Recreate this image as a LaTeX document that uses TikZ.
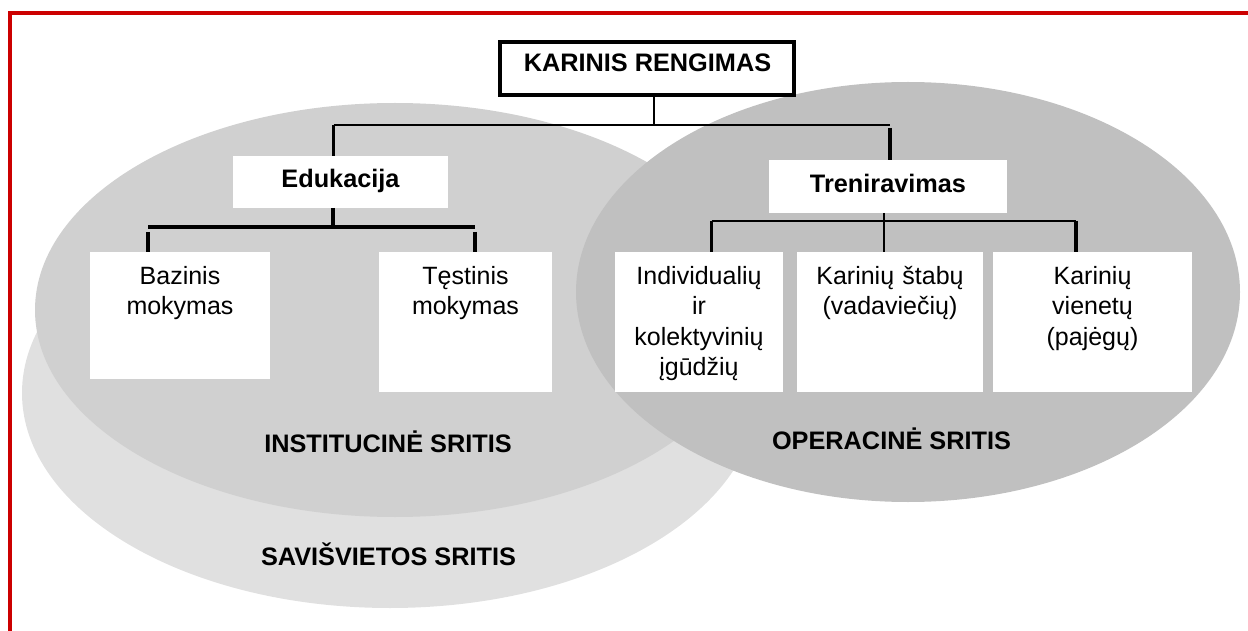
\documentclass[tikz,border=0pt]{standalone}
\usepackage{fontspec}
\setmainfont{Liberation Sans}
\definecolor{savis}{HTML}{E0E0E0}
\definecolor{instit}{HTML}{D0D0D0}
\definecolor{operac}{HTML}{C0C0C0}
\definecolor{frame}{HTML}{CC0000}
\begin{document}
\begin{tikzpicture}[x=1pt,y=-1pt,
  box/.style={fill=white, inner sep=0pt, outer sep=0pt, anchor=north west},
  txt/.style={font=\fontsize{25}{30.5}\selectfont, inner sep=0pt, anchor=base,
    text width=#1, align=center},
  txt/.default=170pt,
  head/.style={font=\bfseries\fontsize{25.3}{30}\selectfont, inner sep=0pt, anchor=base},
  thinline/.style={line width=1.4pt},
  midline/.style={line width=2.2pt},
  thickline/.style={line width=3.4pt},
]
\useasboundingbox (0,0) rectangle (1248,631);

% three overlapping areas
\fill[savis]  (390,393) ellipse [x radius=368, y radius=215];
\fill[instit] (395,310) ellipse [x radius=360, y radius=207];
\fill[operac] (908,292) ellipse [x radius=332, y radius=210];

% frame on the top and left edges
\draw[frame, line width=4pt] (10,631) -- (10,13) -- (1248,13);

% top box
\node[box, draw=black, line width=4pt, minimum width=294pt, minimum height=53pt,
      anchor=north west] (kr) at (500,42) {};
\node[head] (krt) at (647.5,72) {KARINIS RENGIMAS};

% second level
\node[box, minimum width=215pt, minimum height=52pt] (edu) at (233,156) {};
\node[head] (edut) at (340.5,188) {Edukacija};
\node[box, minimum width=238pt, minimum height=53pt] (tr) at (769,160) {};
\node[head] (trt) at (888,193) {Treniravimas};

% third level
\node[box, minimum width=180pt, minimum height=127pt] (baz) at (90,252) {};
\node[txt] (bazt) at (180,284) {Bazinis\\mokymas};
\node[box, minimum width=173pt, minimum height=140pt] (tes) at (379,252) {};
\node[txt] (test) at (465.5,284) {Tęstinis\\mokymas};
\node[box, minimum width=168pt, minimum height=140pt] (ind) at (615,252) {};
\node[txt] (indt) at (699,284) {Individualių\\ir\\kolektyvinių\\įgūdžių};
\node[box, minimum width=186pt, minimum height=140pt] (stab) at (797,252) {};
\node[txt=184pt] (stabt) at (890,284) {Karinių štabų\\(vadaviečių)};
\node[box, minimum width=199pt, minimum height=140pt] (vien) at (993,252) {};
\node[txt] (vient) at (1092.5,284) {Karinių\\vienetų\\(pajėgų)};

% area labels
\node[head] (inst) at (388,452) {INSTITUCINĖ SRITIS};
\node[head] (oper) at (891.5,449) {OPERACINĖ SRITIS};
\node[head] (sav) at (388.5,565) {SAVIŠVIETOS SRITIS};

% connectors from the top box
\coordinate (krDrop) at (654,125);
\coordinate (eduTop) at (333.5,125);
\coordinate (trTop) at (890,125);
\draw[thinline] (kr.south -| krDrop) -- (krDrop);
\draw[thinline] (eduTop) -- (trTop);
\draw[thickline] (eduTop) -- (eduTop |- edu.north);
\draw[thickline] ([yshift=-3pt]trTop) -- (trTop |- tr.north);

% connectors below Edukacija
\coordinate (eduBus) at (333,227);
\coordinate (bazDrop) at (148,227);
\coordinate (tesDrop) at (475,227);
\draw[thickline] (edu.south -| eduBus) -- (eduBus);
\draw[line width=4pt] (bazDrop) -- (tesDrop);
\draw[thickline] ([yshift=-5pt]bazDrop) -- (bazDrop |- baz.north);
\draw[thickline] ([yshift=-5pt]tesDrop) -- (tesDrop |- tes.north);

% connectors below Treniravimas
\coordinate (trBus) at (884,221);
\coordinate (indDrop) at (711.5,221);
\coordinate (vienDrop) at (1076,221);
\draw[midline] (indDrop) -- (vienDrop);
\draw[thinline] (tr.south -| trBus) -- (trBus |- stab.north);
\draw[thickline] (indDrop) -- (indDrop |- ind.north);
\draw[thickline] (vienDrop) -- (vienDrop |- vien.north);
\end{tikzpicture}
\end{document}
